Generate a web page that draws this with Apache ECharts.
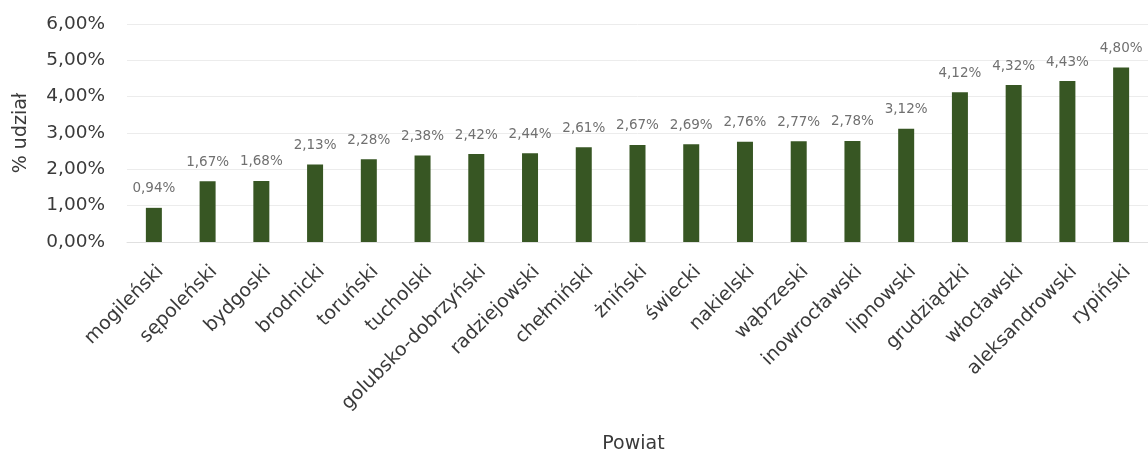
<!DOCTYPE html>
<html><head><meta charset="utf-8">
<script src="https://cdn.jsdelivr.net/npm/echarts@6/dist/echarts.min.js"></script>
<style>html,body{margin:0;padding:0;background:#fff;overflow:hidden}#c{width:1148px;height:455px}</style>
</head><body><div id="c"></div>
<script>
const categories = ["mogileński","sępoleński","bydgoski","brodnicki","toruński","tucholski","golubsko-dobrzyński","radziejowski","chełmiński","żniński","świecki","nakielski","wąbrzeski","inowrocławski","lipnowski","grudziądzki","włocławski","aleksandrowski","rypiński"];
const values = [0.94,1.67,1.68,2.13,2.28,2.38,2.42,2.44,2.61,2.67,2.69,2.76,2.77,2.78,3.12,4.12,4.32,4.43,4.80];
const yTicks = [0,1,2,3,4,5,6];
const fmt = v => v.toFixed(2).replace('.', ',') + '%';
const FF = 'DejaVu Sans';
const chart = echarts.init(document.getElementById('c'));
chart.setOption({
  animation: false,
  textStyle: {fontFamily: FF},
  grid: {left: 127, right: -5, top: 24, bottom: 213},
  xAxis: {
    type: 'category', data: categories,
    name: 'Powiat', nameLocation: 'middle', nameGap: 193,
    nameTextStyle: {fontSize: 19, color: '#3a3a3a', fontFamily: FF, padding: [0, 8, 0, 0]},
    axisLine: {show: true, lineStyle: {color: '#e0e0e0'}},
    axisTick: {show: false},
    axisLabel: {rotate: 45, fontSize: 19, color: '#3a3a3a', interval: 0, margin: 20, verticalAlign: 'top', fontFamily: FF}
  },
  yAxis: {
    type: 'value', min: yTicks[0], max: yTicks[yTicks.length-1], interval: 1,
    name: '% udział', nameLocation: 'middle', nameGap: 96,
    nameTextStyle: {fontSize: 19, color: '#3a3a3a', fontFamily: FF},
    axisLabel: {formatter: v => fmt(v), fontSize: 18.5, color: '#3a3a3a', margin: 22, fontFamily: FF},
    splitLine: {lineStyle: {color: '#ececec'}},
    axisLine: {show: false}, axisTick: {show: false}
  },
  series: [{
    type: 'bar', data: values, barWidth: 16,
    itemStyle: {color: '#375623'},
    label: {show: true, position: 'top', distance: 12, formatter: p => fmt(p.value), fontSize: 13.5, color: '#707070', fontFamily: FF}
  }]
});
</script></body></html>
